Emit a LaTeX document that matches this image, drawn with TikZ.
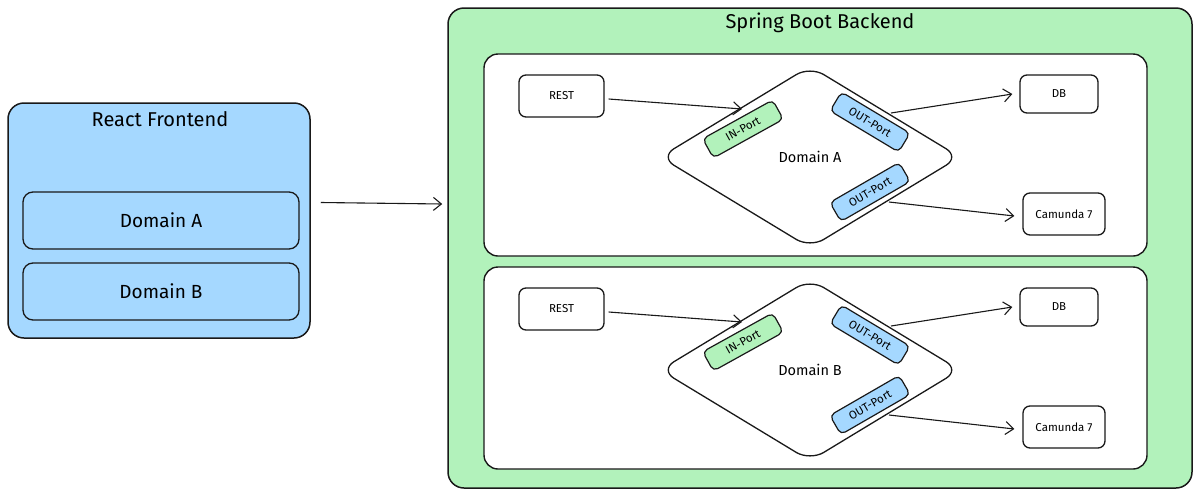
\documentclass[tikz,border=0pt]{standalone}
\usepackage{fontspec}
\setmainfont{Fira Sans}
\usetikzlibrary{shapes.geometric,arrows.meta}
\definecolor{feblue}{HTML}{A5D8FF}
\definecolor{begreen}{HTML}{B2F2BB}
\begin{document}
\begin{tikzpicture}[x=1pt,y=-1pt,
  frame/.style={draw=black!90, line width=1.5pt, rounded corners=16pt, inner sep=0pt},
  innerframe/.style={draw=black!90, line width=1.4pt, rounded corners=14pt, fill=white, inner sep=0pt},
  febox/.style={draw=black!90, line width=1.3pt, rounded corners=10pt, fill=feblue, inner sep=0pt,
    minimum width=276pt, minimum height=57pt, font=\fontsize{19}{22}\selectfont},
  smallbox/.style={draw=black!90, line width=1.3pt, rounded corners=7pt, fill=white, inner sep=0pt,
    font=\fontsize{11.5}{13}\selectfont},
  port/.style={draw=black!90, line width=1.2pt, rounded corners=5pt, inner sep=0pt,
    minimum width=80pt, minimum height=22pt, font=\fontsize{11.5}{13}\selectfont},
  dom/.style={draw=black!90, diamond, line width=1.3pt, rounded corners=16pt, fill=white,
    minimum width=300pt, minimum height=182pt, inner sep=0pt, font=\fontsize{14.5}{16}\selectfont},
  title/.style={font=\fontsize{20}{24}\selectfont},
  arr/.style={-{Straight Barb[length=8pt,width=13pt]}, line width=1.1pt, black!90}]
\useasboundingbox (0,0) rectangle (1200,496);
\fill[white] (0,0) rectangle (1200,496);

% Frontend
\node[frame, fill=feblue, minimum width=302pt, minimum height=235pt] (front) at (159,220.5) {};
\node[title] (fronttitle) at (160,119) {React Frontend};
\node[febox] (feA) at (161,220.5) {Domain A};
\node[febox] (feB) at (161,291.5) {Domain B};

% Backend
\node[frame, fill=begreen, minimum width=744pt, minimum height=480pt] (back) at (820,248) {};
\node[title] (backtitle) at (820,23) {Spring Boot Backend};

\draw[arr] ([xshift=10pt,yshift=18pt]front.east) -- ([xshift=-5pt,yshift=44pt]back.west);

\foreach \d/\dy in {A/0,B/213}{
  \node[innerframe, minimum width=663pt, minimum height=202pt] (inner\d) at (815.5,155+\dy) {};
  \node[smallbox, minimum width=85pt, minimum height=42pt] (rest\d) at (561.5,96+\dy) {REST};
  \node[smallbox, minimum width=78pt, minimum height=38pt] (db\d) at (1059,94+\dy) {DB};
  \node[smallbox, minimum width=82pt, minimum height=42pt] (cam\d) at (1064,214+\dy) {Camunda 7};
  \node[dom] (dom\d) at (810,157+\dy) {Domain \d};
  \node[port, fill=begreen, rotate=29] (in\d) at (743,129+\dy) {IN-Port};
  \node[port, fill=feblue, rotate=-31] (outt\d) at (870,122+\dy) {OUT-Port};
  \node[port, fill=feblue, rotate=30] (outb\d) at (870,192+\dy) {OUT-Port};
  \draw[arr] ([xshift=4pt,yshift=-3pt]rest\d.east) -- ([shift={(-1pt,20pt)}]in\d.center);
  \draw[arr] ([shift={(21pt,9pt)}]outt\d.center) -- ([xshift=-7pt]db\d.west);
  \draw[arr] ([shift={(19pt,-10pt)}]outb\d.center) -- ([xshift=-8pt,yshift=-2pt]cam\d.west);
}
\end{tikzpicture}
\end{document}
